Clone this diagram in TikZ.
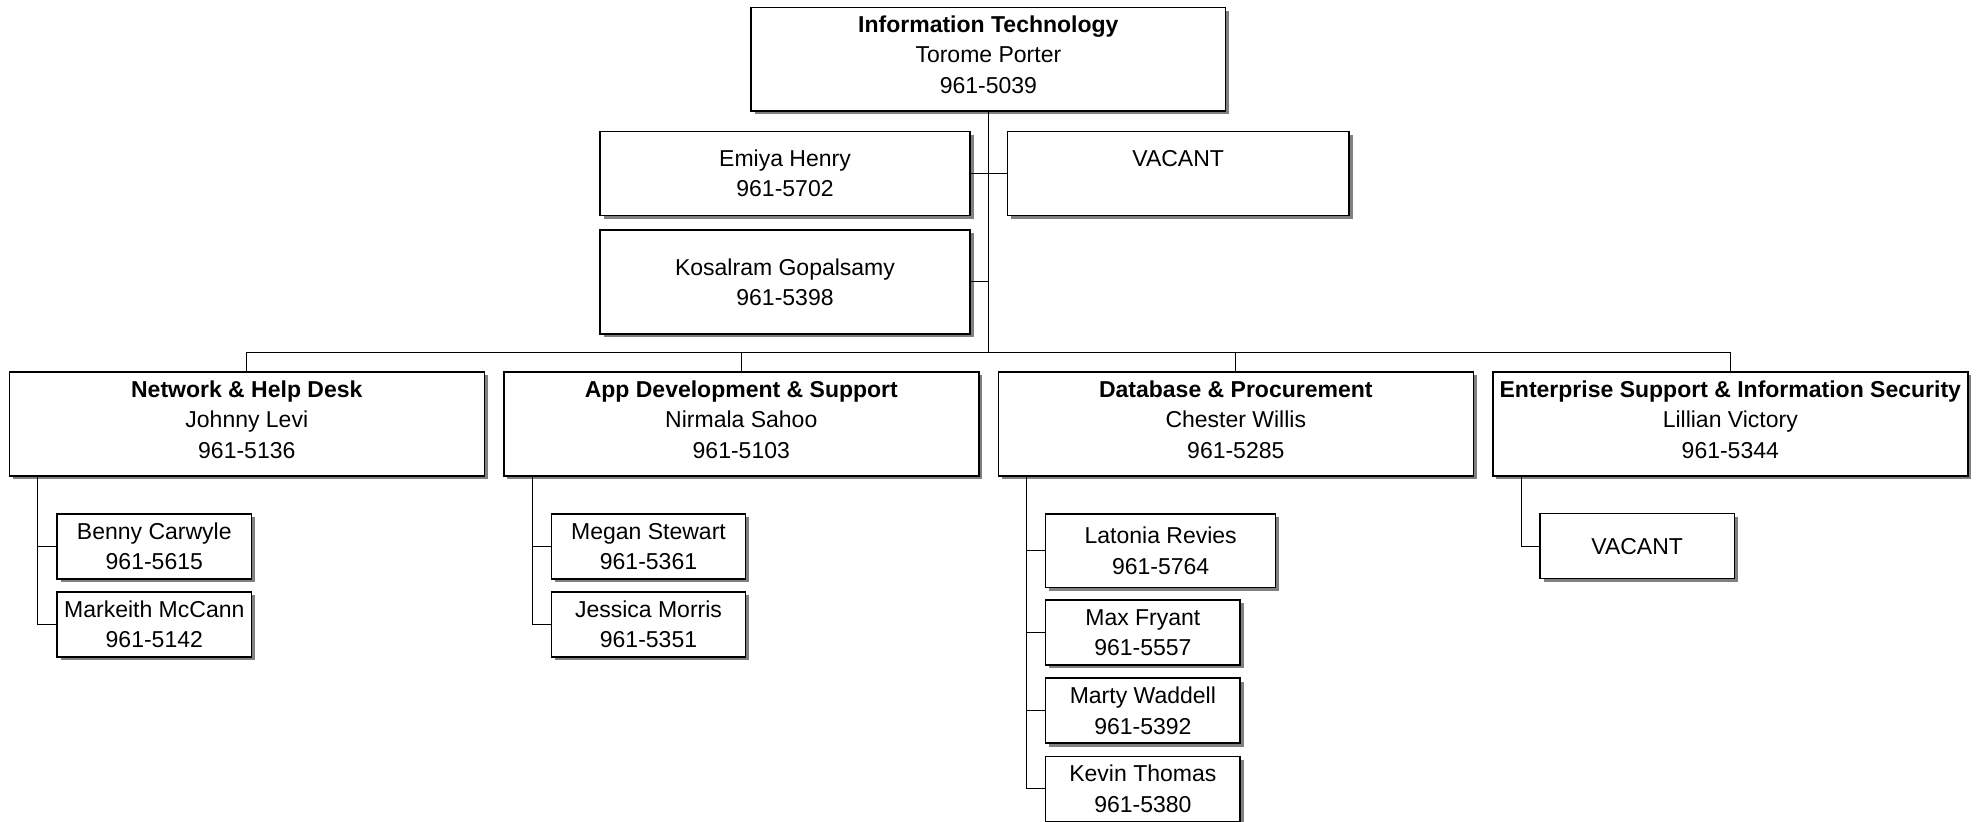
\documentclass[tikz,border=0pt]{standalone}
\usepackage{fontspec}
\setmainfont{Liberation Sans}
\usetikzlibrary{shadows}
\definecolor{shadowgray}{HTML}{808080}
\tikzset{
  box/.style={draw=black, line width=0.7pt, fill=white, inner sep=0pt, align=center,
    font=\fontsize{11.5pt}{15.2pt}\selectfont,
    drop shadow={fill=shadowgray, opacity=1, shadow xshift=1.75pt, shadow yshift=-1.75pt}},
  headbox/.style={box, minimum width=237.35pt, minimum height=51.85pt},
  deptbox/.style={box, minimum width=237.5pt, minimum height=52pt},
  asstbox/.style={box, minimum width=185pt, minimum height=42.25pt},
  subbox/.style={box, minimum width=97.15pt, minimum height=32.5pt},
  conn/.style={draw=black, line width=0.5pt},
}
\begin{document}
\begin{tikzpicture}[x=0.5pt, y=-0.5pt]
\path[fill=white, use as bounding box] (0,0) rectangle (1981,822);

% head
\node[headbox] (top) at (988.35,59.15) {\textbf{Information Technology}\\Torome Porter\\961-5039\strut};

% staff
\node[asstbox] (a1) at (785,173.5) {Emiya Henry\\961-5702};
\node[asstbox, minimum width=170.85pt] (a2) at (1178.15,173.5) {VACANT\\\phantom{0}};
\node[asstbox, minimum height=52pt] (a3) at (785,282) {Kosalram Gopalsamy\\961-5398};

% departments
\node[deptbox] (d1) at (246.8,424) {\textbf{Network \& Help Desk}\\Johnny Levi\\961-5136\strut};
\node[deptbox] (d2) at (741.3,424) {\textbf{App Development \& Support}\\Nirmala Sahoo\\961-5103\strut};
\node[deptbox] (d3) at (1235.8,424) {\textbf{Database \& Procurement}\\Chester Willis\\961-5285\strut};
\node[deptbox] (d4) at (1730.3,424) {\textbf{Enterprise Support \& Information Security}\\Lillian Victory\\961-5344\strut};

% sub staff
\node[subbox] (s11) at (154.3,546.35) {Benny Carwyle\\961-5615};
\node[subbox] (s12) at (154.3,624.35) {Markeith McCann\\961-5142};
\node[subbox] (s21) at (648.5,546.35) {Megan Stewart\\961-5361};
\node[subbox] (s22) at (648.5,624.35) {Jessica Morris\\961-5351};
\node[subbox, minimum width=115pt, minimum height=36.65pt] (s31) at (1160.7,550.65) {Latonia Revies\\961-5764};
\node[subbox] (s32) at (1142.85,632.5) {Max Fryant\\961-5557};
\node[subbox] (s33) at (1142.85,710.65) {Marty Waddell\\961-5392};
\node[subbox] (s34) at (1142.85,788.8) {Kevin Thomas\\961-5380};
\node[subbox] (s41) at (1637.15,546.2) {VACANT};

% connectors
\coordinate (bus1) at (246.8,352.6);
\coordinate (bus4) at (1730.3,352.6);
\draw[conn] (top.south) -- (top.south |- bus1);
\draw[conn] (d1.north) -- (bus1) -- (bus4) -- (d4.north);
\draw[conn] (d2.north |- bus1) -- (d2.north);
\draw[conn] (d3.north |- bus1) -- (d3.north);
\draw[conn] (a1.east) -- (a2.west);
\draw[conn] (a3.east) -- (a3.east -| top.south);

\coordinate (t1) at ([xshift=14.5pt]d1.south west);
\coordinate (t2) at ([xshift=14.5pt]d2.south west);
\coordinate (t3) at ([xshift=14.5pt]d3.south west);
\coordinate (t4) at ([xshift=14.5pt]d4.south west);
\draw[conn] (t1) |- (s11.west);
\draw[conn] (t1) |- (s12.west);
\draw[conn] (t2) |- (s21.west);
\draw[conn] (t2) |- (s22.west);
\draw[conn] (t3) |- (s31.west);
\draw[conn] (t3) |- (s32.west);
\draw[conn] (t3) |- (s33.west);
\draw[conn] (t3) |- (s34.west);
\draw[conn] (t4) |- (s41.west);
\end{tikzpicture}
\end{document}
